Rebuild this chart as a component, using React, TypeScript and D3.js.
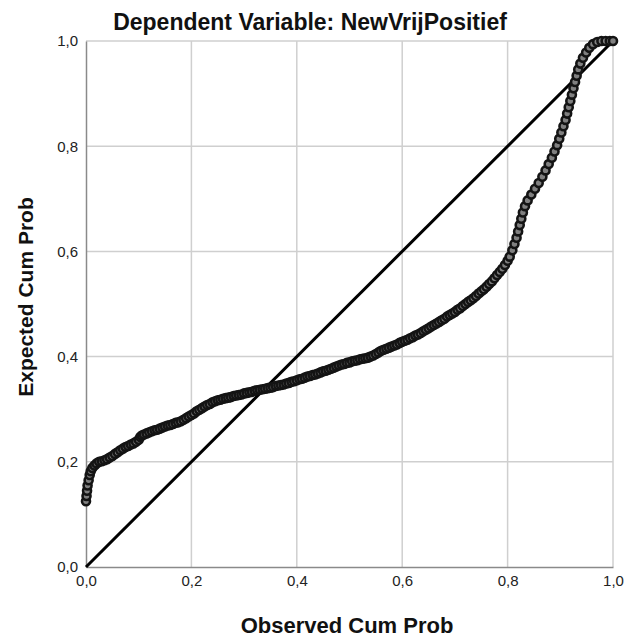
import React, { useEffect, useRef } from 'react'
import * as d3 from 'd3'

const title = 'Dependent Variable: NewVrijPositief'
const xTitle = 'Observed Cum Prob'
const yTitle = 'Expected Cum Prob'
const ticks = [0, 0.2, 0.4, 0.6, 0.8, 1.0]

// [observed, expected]
const lowerTail: [number, number][] = [
    [0.000, 0.125], [0.001, 0.135], [0.002, 0.145], [0.003, 0.155], [0.005, 0.165],
    [0.007, 0.175], [0.009, 0.182], [0.012, 0.188], [0.016, 0.193], [0.020, 0.197],
    [0.025, 0.200],
]

const middle: [number, number][] = [
    [0.030, 0.201], [0.035, 0.203], [0.040, 0.205], [0.045, 0.208], [0.050, 0.211],
    [0.055, 0.215], [0.060, 0.218], [0.065, 0.222], [0.070, 0.225], [0.075, 0.228],
    [0.080, 0.230], [0.085, 0.233], [0.090, 0.235], [0.095, 0.238], [0.100, 0.242],
    [0.103, 0.247], [0.106, 0.250], [0.110, 0.252], [0.115, 0.254], [0.120, 0.256],
    [0.125, 0.258], [0.130, 0.260], [0.135, 0.261], [0.140, 0.263], [0.145, 0.265],
    [0.150, 0.267], [0.155, 0.269], [0.160, 0.270], [0.165, 0.272], [0.170, 0.274],
    [0.175, 0.275], [0.180, 0.277], [0.185, 0.280], [0.190, 0.283], [0.195, 0.286],
    [0.200, 0.289], [0.205, 0.292], [0.210, 0.296], [0.215, 0.299], [0.220, 0.302],
    [0.225, 0.305], [0.230, 0.308], [0.235, 0.310], [0.240, 0.313], [0.245, 0.315],
    [0.250, 0.317], [0.255, 0.318], [0.260, 0.320], [0.265, 0.321], [0.270, 0.322],
    [0.275, 0.323], [0.280, 0.325], [0.285, 0.326], [0.290, 0.327], [0.295, 0.328],
    [0.300, 0.330], [0.305, 0.331], [0.310, 0.332], [0.315, 0.333], [0.320, 0.335],
    [0.325, 0.336], [0.330, 0.337], [0.335, 0.338], [0.340, 0.339], [0.345, 0.340],
    [0.350, 0.341], [0.355, 0.342], [0.360, 0.344], [0.365, 0.345], [0.370, 0.346],
    [0.375, 0.347], [0.380, 0.349], [0.385, 0.350], [0.390, 0.352], [0.395, 0.353],
    [0.400, 0.355], [0.405, 0.357], [0.410, 0.358], [0.415, 0.360], [0.420, 0.362],
    [0.425, 0.363], [0.430, 0.365], [0.435, 0.366], [0.440, 0.368], [0.445, 0.370],
    [0.450, 0.372], [0.455, 0.373], [0.460, 0.375], [0.465, 0.377], [0.470, 0.379],
    [0.475, 0.381], [0.480, 0.383], [0.485, 0.385], [0.490, 0.386], [0.495, 0.388],
    [0.500, 0.389], [0.505, 0.391], [0.510, 0.392], [0.515, 0.393], [0.520, 0.395],
    [0.525, 0.396], [0.530, 0.397], [0.535, 0.398], [0.540, 0.400], [0.545, 0.402],
    [0.550, 0.405], [0.555, 0.408], [0.560, 0.411], [0.565, 0.413], [0.570, 0.415],
    [0.575, 0.417], [0.580, 0.419], [0.585, 0.421], [0.590, 0.423], [0.595, 0.426],
    [0.600, 0.428], [0.605, 0.430], [0.610, 0.432], [0.615, 0.435], [0.620, 0.437],
    [0.625, 0.440], [0.630, 0.442], [0.635, 0.445], [0.640, 0.448], [0.645, 0.451],
    [0.650, 0.454], [0.655, 0.457], [0.660, 0.460], [0.665, 0.463], [0.670, 0.466],
    [0.675, 0.469], [0.680, 0.472], [0.685, 0.476], [0.690, 0.479], [0.695, 0.482],
    [0.700, 0.485], [0.705, 0.489], [0.710, 0.492], [0.715, 0.496], [0.720, 0.500],
    [0.725, 0.504], [0.730, 0.507], [0.735, 0.511], [0.740, 0.515], [0.745, 0.520],
    [0.750, 0.524], [0.755, 0.528], [0.760, 0.533], [0.765, 0.538], [0.770, 0.543],
    [0.775, 0.549], [0.780, 0.555], [0.785, 0.561], [0.790, 0.567], [0.795, 0.574],
    [0.800, 0.582],
]

const upperTail: [number, number][] = [
    [0.804, 0.590], [0.809, 0.602], [0.813, 0.614], [0.817, 0.626], [0.820, 0.638],
    [0.823, 0.650], [0.826, 0.662], [0.829, 0.674], [0.833, 0.686], [0.838, 0.697],
    [0.845, 0.708], [0.852, 0.719], [0.859, 0.730], [0.866, 0.742], [0.872, 0.754],
    [0.878, 0.766], [0.884, 0.778], [0.889, 0.790], [0.894, 0.802], [0.898, 0.814],
    [0.902, 0.826], [0.906, 0.838], [0.910, 0.850], [0.913, 0.862], [0.916, 0.874],
    [0.919, 0.886], [0.922, 0.898], [0.925, 0.910], [0.928, 0.922], [0.931, 0.934],
    [0.934, 0.946], [0.938, 0.957], [0.943, 0.968], [0.949, 0.978], [0.955, 0.987],
    [0.962, 0.994], [0.970, 0.998], [0.978, 1.000], [0.986, 1.000], [0.994, 1.000],
    [1.000, 1.000],
]

const width = 626
const height = 644
const margin = { top: 41, right: 13, bottom: 77, left: 86 }
const font = '"Liberation Sans", Arial, sans-serif'

export default function App() {
    const svgNode = useRef<SVGSVGElement>(null)

    useEffect(() => {
        const svg = d3.select(svgNode.current)
        svg.selectAll('*').remove()

        const x = d3.scaleLinear().domain([0, 1]).range([margin.left, width - margin.right])
        const y = d3.scaleLinear().domain([0, 1]).range([height - margin.bottom, margin.top])
        const fmt = (d: number) => d.toFixed(1).replace('.', ',')

        // grid
        const grid = svg.append('g')
        grid.selectAll('.vx').data(ticks.slice(1)).join('line')
            .attr('x1', d => x(d)).attr('x2', d => x(d))
            .attr('y1', y(0)).attr('y2', y(1))
            .attr('stroke', '#cfcfcf').attr('stroke-width', 1.5)
        grid.selectAll('.hy').data(ticks.slice(1)).join('line')
            .attr('x1', x(0)).attr('x2', x(1))
            .attr('y1', d => y(d)).attr('y2', d => y(d))
            .attr('stroke', '#cfcfcf').attr('stroke-width', 1.5)

        // axes
        const xAxis = d3.axisBottom(x).tickValues(ticks).tickFormat(d => fmt(+d)).tickSize(0).tickPadding(8)
        const gx = svg.append('g').attr('transform', `translate(0,${y(0)})`).call(xAxis)
        const yAxis = d3.axisLeft(y).tickValues(ticks).tickFormat(d => fmt(+d)).tickSize(0).tickPadding(8)
        const gy = svg.append('g').attr('transform', `translate(${x(0)},0)`).call(yAxis)
        for (const g of [gx, gy]) {
            g.select('.domain').attr('stroke', '#8a8a8a').attr('stroke-width', 1.5)
            g.selectAll('text').attr('font-family', font).attr('font-size', 15).attr('fill', '#222')
        }

        // reference diagonal
        svg.append('line')
            .attr('x1', x(0)).attr('y1', y(0)).attr('x2', x(1)).attr('y2', y(1))
            .attr('stroke', '#000').attr('stroke-width', 3)

        const points = [...lowerTail, ...middle, ...upperTail]
        svg.append('g').selectAll('circle').data(points).join('circle')
            .attr('cx', d => x(d[0])).attr('cy', d => y(d[1]))
            .attr('r', 4)
            .attr('fill', '#808080')
            .attr('stroke', '#141414')
            .attr('stroke-width', 2.6)

        svg.append('text')
            .attr('x', 310).attr('y', 30)
            .attr('text-anchor', 'middle')
            .attr('font-family', font).attr('font-size', 23).attr('font-weight', 'bold')
            .attr('fill', '#111')
            .text(title)

        svg.append('text')
            .attr('x', 347).attr('y', 633)
            .attr('text-anchor', 'middle')
            .attr('font-family', font).attr('font-size', 22).attr('font-weight', 'bold')
            .attr('fill', '#111')
            .text(xTitle)

        svg.append('text')
            .attr('transform', `translate(33,297) rotate(-90)`)
            .attr('text-anchor', 'middle')
            .attr('font-family', font).attr('font-size', 21).attr('font-weight', 'bold')
            .attr('fill', '#111')
            .text(yTitle)
    }, [])

    return (
        <svg ref={svgNode} width={width} height={height}
            style={{ position: 'absolute', left: 0, top: 0, background: '#fff' }} />
    )
}
